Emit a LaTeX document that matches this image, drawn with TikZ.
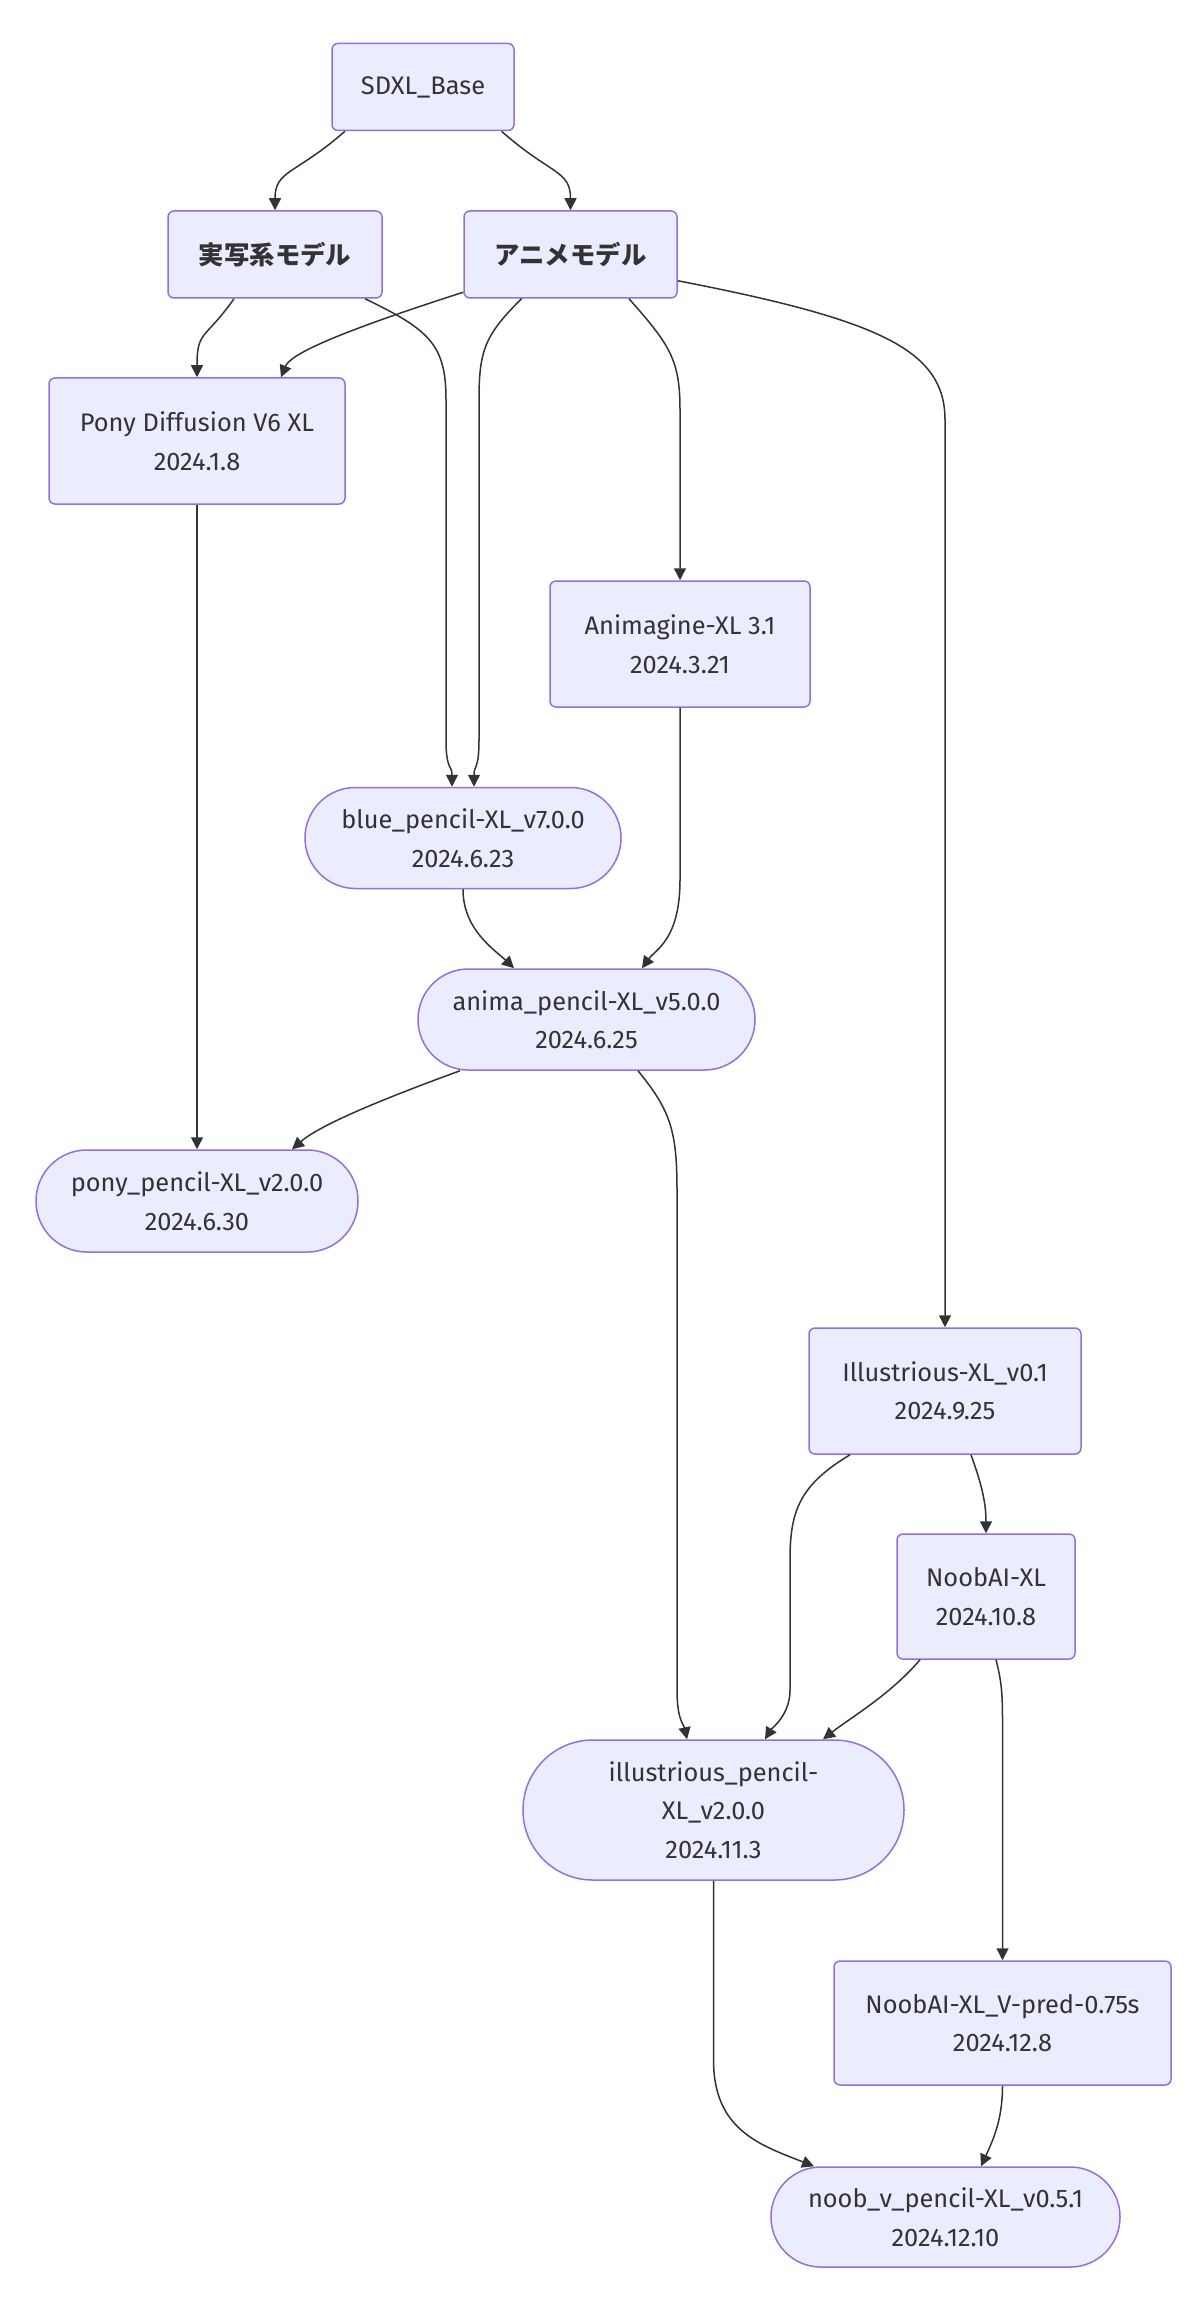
\documentclass[tikz,border=0pt]{standalone}
\usepackage{fontspec}
\setmainfont{Fira Sans}
\newfontfamily\jp{Noto Sans CJK JP}
\usetikzlibrary{arrows.meta,calc}
\definecolor{mfill}{HTML}{ECECFF}
\definecolor{mstroke}{HTML}{9370DB}
\definecolor{mline}{HTML}{333333}
\begin{document}
\begin{tikzpicture}[x=0.5pt,y=-0.5pt,
  box/.style={draw=mstroke, fill=mfill, line width=0.75pt, rounded corners=3pt,
    inner sep=0pt, align=center, text=mline, font={\fontsize{12.7pt}{19.25pt}\selectfont}},
  jpbox/.style={box, font={\jp\bfseries\fontsize{12.7pt}{19.25pt}\selectfont}},
  edge/.style={draw=mline, line width=0.75pt, -{Triangle[length=6pt,width=6pt]}},
]
\fill[white] (0,0) rectangle (1200,2321);
\useasboundingbox (0,0) rectangle (1200,2321);

\node[box, minimum width=91pt, minimum height=43.5pt] (sdxl) at (423,87) {SDXL\_Base};
\node[jpbox, minimum width=107pt, minimum height=43.5pt] (real) at (275,254.5) {実写系モデル};
\node[jpbox, minimum width=106.5pt, minimum height=43.5pt] (anime) at (570.5,254.5) {アニメモデル};
\node[box, minimum width=148pt, minimum height=63pt] (pony) at (197,441) {Pony Diffusion V6 XL\\2024.1.8};
\node[box, minimum width=130pt, minimum height=63pt] (anim) at (680,644) {Animagine-XL 3.1\\2024.3.21};
\node[box, rounded corners=25.2pt, minimum width=158pt, minimum height=50.5pt] (blue) at (463,838) {blue\_pencil-XL\_v7.0.0\\2024.6.23};
\node[box, rounded corners=25.2pt, minimum width=168.5pt, minimum height=50.5pt] (anima) at (586.5,1019.5) {anima\_pencil-XL\_v5.0.0\\2024.6.25};
\node[box, rounded corners=25.4pt, minimum width=161pt, minimum height=51pt] (ponyp) at (197,1201) {pony\_pencil-XL\_v2.0.0\\2024.6.30};
\node[box, minimum width=136pt, minimum height=63pt] (illu) at (945,1391) {Illustrious-XL\_v0.1\\2024.9.25};
\node[box, minimum width=89pt, minimum height=62.5pt] (noob) at (986,1596.5) {NoobAI-XL\\2024.10.8};
\node[box, rounded corners=34.9pt, minimum width=190.5pt, minimum height=70pt] (illup) at (713.5,1810) {illustrious\_pencil-\\XL\_v2.0.0\\2024.11.3};
\node[box, minimum width=168.5pt, minimum height=62pt] (vpred) at (1002.5,2023) {NoobAI-XL\_V-pred-0.75s\\2024.12.8};
\node[box, rounded corners=24.9pt, minimum width=174.5pt, minimum height=50pt] (noobv) at (945.5,2217) {noob\_v\_pencil-XL\_v0.5.1\\2024.12.10};

\draw[edge] ($(sdxl.south)+(-78,0)$) .. controls (295,175) and (275,170) .. (real.north);
\draw[edge] ($(sdxl.south)+(78.5,0)$) .. controls (551,175) and (570.5,170) .. (anime.north);
\draw[edge] ($(real.south)+(-41,0)$) .. controls (205,340) and (197,330) .. (pony.north);
\draw[edge] ($(real.south)+(90,0)$) .. controls (430,330) and (446,345) .. (446,400) -- (446,740) .. controls (446,770) and (452,765) .. ($(blue.north)+(-11,0)$);
\draw[edge] ($(anime.south west)+(0,-6.5)$) .. controls (330,335) and (290,355) .. ($(pony.north)+(84,0)$);
\draw[edge] ($(anime.south)+(-49,0)$) .. controls (485,335) and (479,350) .. (479,400) -- (479,740) .. controls (479,770) and (474,765) .. ($(blue.north)+(11,0)$);
\draw[edge] ($(anime.south)+(58.5,0)$) .. controls (670,345) and (680,360) .. (680,410) -- (anim.north);
\draw[edge] ($(anime.south east)+(0,-18)$) .. controls (880,320) and (945,350) .. (945,420) -- (illu.north);
\draw[edge] (anim.south) -- (680,880) .. controls (680,940) and (655,950) .. ($(anima.north)+(55.5,0)$);
\draw[edge] (blue.south) .. controls (463,930) and (495,950) .. ($(anima.north)+(-72.5,0)$);
\draw[edge] (pony.south) -- (ponyp.north);
\draw[edge] ($(anima.south)+(-126.5,0)$) .. controls (380,1100) and (320,1125) .. ($(ponyp.north)+(95,0)$);
\draw[edge] ($(anima.south)+(51.5,0)$) .. controls (670,1110) and (677,1130) .. (677,1190) -- (677,1690) .. controls (677,1720) and (684,1725) .. ($(illup.north)+(-26.5,0)$);
\draw[edge] ($(illu.south)+(-95,0)$) .. controls (800,1485) and (790,1510) .. (790,1560) -- (790,1690) .. controls (790,1715) and (772,1728) .. ($(illup.north)+(51.5,0)$);
\draw[edge] ($(illu.south)+(26,0)$) .. controls (980,1480) and (986,1500) .. (noob.north);
\draw[edge] ($(noob.south)+(-66,0)$) .. controls (890,1695) and (850,1718) .. ($(illup.north)+(109.5,0)$);
\draw[edge] ($(noob.south)+(10,0)$) .. controls (1001,1680) and (1002.5,1690) .. (1002.5,1720) -- (vpred.north);
\draw[edge] (illup.south) -- (713.5,2060) .. controls (713.5,2130) and (760,2145) .. ($(noobv.north)+(-131.5,0)$);
\draw[edge] (vpred.south) .. controls (1002.5,2120) and (993,2140) .. ($(noobv.north)+(35.5,0)$);
\end{tikzpicture}
\end{document}
